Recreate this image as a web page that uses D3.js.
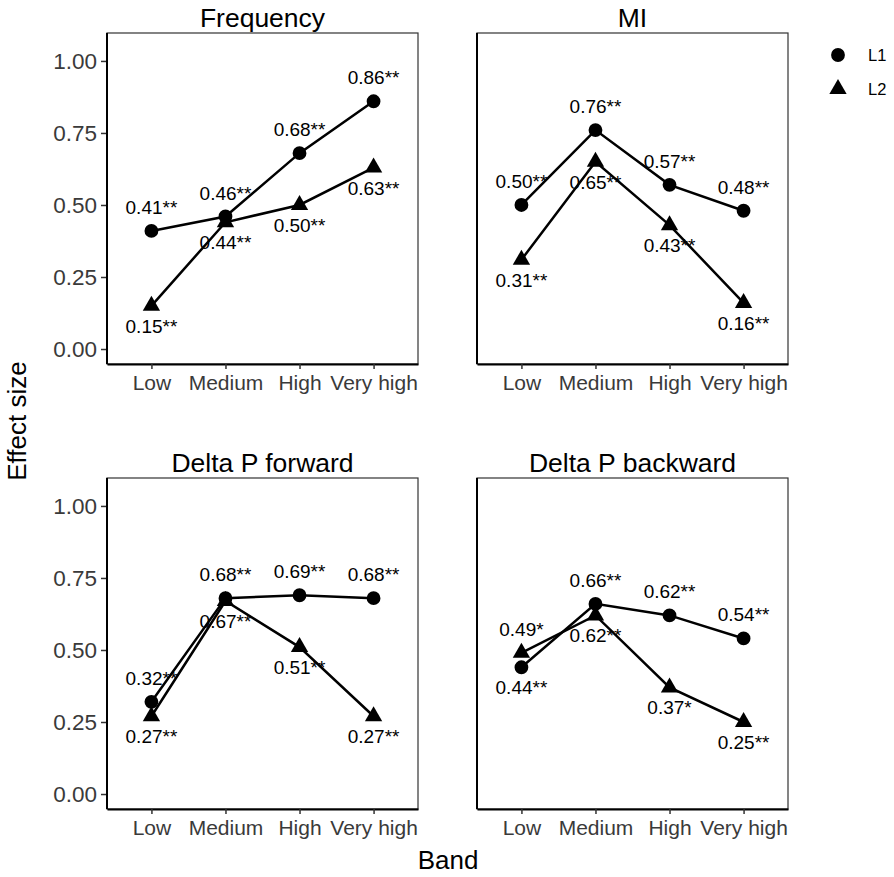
<html lang="en">
<head>
  <meta charset="UTF-8">
  <title>Effect size by band</title>
  <style>
    body { margin: 0; background: #fff; }
    text { font-family: "Liberation Sans", Arial, sans-serif; }
  </style>
</head>
<body>
  <div id="chart"></div>
  <script src="https://d3js.org/d3.v7.min.js"></script>
  <script>
    const bands = ["Low", "Medium", "High", "Very high"];
    const panelTitles = ["Frequency", "MI", "Delta P forward", "Delta P backward"];
    const groups = ["L1", "L2"];

    // effect sizes per panel, 4 bands each
    const l1Values = [
      [0.41, 0.46, 0.68, 0.86],
      [0.50, 0.76, 0.57, 0.48],
      [0.32, 0.68, 0.69, 0.68],
      [0.44, 0.66, 0.62, 0.54]
    ];
    const l2Values = [
      [0.15, 0.44, 0.50, 0.63],
      [0.31, 0.65, 0.43, 0.16],
      [0.27, 0.67, 0.51, 0.27],
      [0.49, 0.62, 0.37, 0.25]
    ];
    // significance stars
    const l1Stars = [
      ["**", "**", "**", "**"],
      ["**", "**", "**", "**"],
      ["**", "**", "**", "**"],
      ["**", "**", "**", "**"]
    ];
    const l2Stars = [
      ["**", "**", "**", "**"],
      ["**", "**", "**", "**"],
      ["**", "**", "**", "**"],
      ["*", "**", "*", "**"]
    ];
    const yTicks = [0, 0.25, 0.5, 0.75, 1.0];

    const w = 894, h = 877;
    const panelW = 311, panelH = 331;
    const panelX = [107, 477];
    const panelY = [33, 478];

    const svg = d3.select("#chart").append("svg")
      .attr("width", w)
      .attr("height", h);

    const x = d3.scalePoint()
      .domain(bands)
      .range([0, panelW])
      .padding(0.6);

    const y = d3.scaleLinear()
      .domain([-0.052, 1.097])
      .range([panelH, 0]);

    const circle = d3.symbol().type(d3.symbolCircle).size(150);
    const triangle = d3.symbol().type(d3.symbolTriangle).size(130);

    panelTitles.forEach((title, i) => {
      const px = panelX[i % 2], py = panelY[Math.floor(i / 2)];
      const g = svg.append("g").attr("transform", "translate(" + px + "," + py + ")");

      g.append("rect")
        .attr("width", panelW)
        .attr("height", panelH)
        .attr("fill", "none")
        .attr("stroke", "#333")
        .attr("stroke-width", 1.2);

      g.append("text")
        .attr("x", panelW / 2)
        .attr("y", -6)
        .attr("text-anchor", "middle")
        .attr("font-size", 26.5)
        .attr("fill", "#000")
        .text(title);

      // axes
      const xAxis = g.append("g")
        .attr("transform", "translate(0," + panelH + ")")
        .call(d3.axisBottom(x).tickSize(5).tickSizeOuter(0).tickPadding(6));
      xAxis.select(".domain").attr("stroke", "#000").attr("stroke-width", 2);
      xAxis.selectAll(".tick line").attr("stroke", "#333").attr("stroke-width", 1.5);
      xAxis.selectAll(".tick text")
        .attr("font-size", 21)
        .attr("fill", "#3a3a3a")
        .attr("font-family", '"Liberation Sans", Arial, sans-serif');

      if (i % 2 === 0) {
        const yAxis = g.append("g")
          .call(d3.axisLeft(y).tickValues(yTicks).tickFormat(d3.format(".2f")).tickSize(6).tickPadding(4));
        yAxis.selectAll(".tick line").attr("stroke", "#333").attr("stroke-width", 1.5);
        yAxis.selectAll(".tick text")
          .attr("font-size", 22.5)
          .attr("fill", "#3a3a3a")
          .attr("font-family", '"Liberation Sans", Arial, sans-serif');
        yAxis.select(".domain").remove();
      }
      g.append("line")
        .attr("x1", 0).attr("x2", 0)
        .attr("y1", 0).attr("y2", panelH)
        .attr("stroke", "#000")
        .attr("stroke-width", 2);

      const series = [
        { vals: l1Values[i], other: l2Values[i], stars: l1Stars[i], shape: circle },
        { vals: l2Values[i], other: l1Values[i], stars: l2Stars[i], shape: triangle }
      ];

      const line = d3.line()
        .x((d, j) => x(bands[j]))
        .y(d => y(d));

      series.forEach(s => {
        g.append("path")
          .datum(s.vals)
          .attr("d", line)
          .attr("fill", "none")
          .attr("stroke", "#000")
          .attr("stroke-width", 2.5);
      });

      series.forEach(s => {
        g.selectAll(null)
          .data(s.vals)
          .enter()
          .append("path")
          .attr("d", s.shape)
          .attr("transform", (d, j) => "translate(" + x(bands[j]) + "," + y(d) + ")")
          .attr("fill", "#000");

        // label above when this series is higher at that band, below otherwise
        g.selectAll(null)
          .data(s.vals)
          .enter()
          .append("text")
          .attr("x", (d, j) => x(bands[j]))
          .attr("y", (d, j) => y(d) + (d >= s.other[j] ? -17 : 27))
          .attr("text-anchor", "middle")
          .attr("font-size", 19)
          .attr("fill", "#000")
          .text((d, j) => d.toFixed(2) + s.stars[j]);
      });
    });

    // axis titles
    svg.append("text")
      .attr("transform", "translate(26," + 421 + ") rotate(-90)")
      .attr("text-anchor", "middle")
      .attr("font-size", 26)
      .text("Effect size");

    svg.append("text")
      .attr("x", 448)
      .attr("y", 869)
      .attr("text-anchor", "middle")
      .attr("font-size", 26)
      .text("Band");

    // legend
    const legend = svg.append("g").attr("transform", "translate(838,55)");
    groups.forEach((grp, k) => {
      legend.append("path")
        .attr("d", k === 0 ? circle : triangle)
        .attr("transform", "translate(0," + (k * 34) + ")")
        .attr("fill", "#000");
      legend.append("text")
        .attr("x", 30)
        .attr("y", k * 34 + 6)
        .attr("font-size", 16.5)
        .text(grp);
    });
  </script>
</body>
</html>
